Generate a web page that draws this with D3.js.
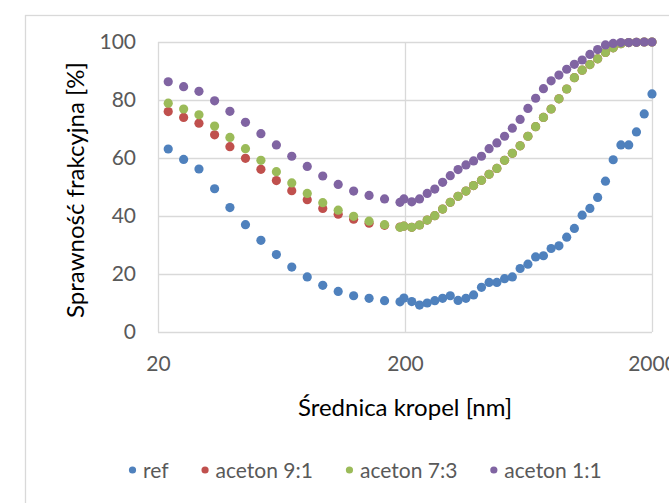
<!DOCTYPE html>
<html>
<head>
<meta charset="utf-8">
<script src="https://cdn.jsdelivr.net/npm/d3@7"></script>
<style>
  body { margin: 0; background: #fff; }
  svg { display: block; font-family: Lato, "Liberation Sans", sans-serif; }
</style>
</head>
<body>
<svg id="chart" width="669" height="503"></svg>
<script>
// droplet diameters [nm]: 16 channels below 200 nm, then the fine grid up to 2000 nm
const diameters = [22.0, 25.4, 29.3, 33.9, 39.1, 45.2, 52.2, 60.3, 69.6, 80.4, 92.9, 107.3, 123.9, 143.1, 165.3, 190.9,
  198, 213, 229, 246, 264, 284, 305, 328, 353, 379, 408, 438, 471, 506, 544, 585, 629,
  676, 727, 781, 840, 903, 970, 1043, 1121, 1205, 1296, 1393, 1497, 1610, 1730, 1860, 2000];

const ref = [63.1, 59.5, 56.2, 49.4, 42.9, 37.0, 31.6, 26.7, 22.4, 19.0, 16.1, 14.0, 12.5, 11.6, 10.8, 10.4,
  11.7, 10.5, 9.3, 10.0, 10.8, 11.6, 12.5, 10.9, 11.6, 12.8, 15.4, 17.1, 17.1, 18.4, 19.0, 21.9, 23.4,
  25.9, 26.3, 28.8, 29.7, 32.7, 35.7, 40.3, 42.6, 46.4, 52.0, 59.4, 64.5, 64.5, 69.0, 75.2, 82.1];
const aceton91 = [76.0, 74.0, 72.0, 68.0, 63.9, 59.9, 56.1, 52.2, 48.7, 45.6, 42.6, 40.6, 38.9, 37.5, 36.8, 36.2,
  36.5, 36.1, 36.9, 38.6, 40.1, 42.4, 44.7, 46.8, 48.6, 50.5, 52.3, 54.4, 56.4, 59.2, 61.6, 64.2, 67.5,
  70.8, 74.0, 76.9, 80.4, 83.8, 87.7, 90.3, 92.2, 94.2, 96.4, 98.0, 99.4, 99.8, 99.9, 100, 100];
const aceton73 = [78.9, 76.9, 74.9, 71.0, 67.1, 63.2, 59.2, 55.3, 51.4, 47.8, 44.6, 42.0, 39.9, 38.2, 37.0, 36.1,
  36.5, 36.1, 36.9, 38.6, 40.1, 42.4, 44.7, 46.8, 48.6, 50.5, 52.3, 54.4, 56.4, 59.2, 61.6, 64.2, 67.5,
  70.8, 74.0, 76.9, 80.4, 83.8, 87.7, 90.3, 92.2, 94.2, 96.4, 98.0, 99.4, 99.8, 99.9, 100, 100];
const aceton11 = [86.3, 84.6, 83.0, 79.7, 76.1, 72.3, 68.4, 64.5, 60.6, 57.1, 53.8, 50.9, 48.6, 47.1, 45.9, 44.7,
  45.9, 44.9, 45.9, 47.8, 49.3, 51.6, 53.9, 56.0, 57.6, 59.0, 60.6, 63.2, 65.2, 67.5, 70.3, 73.3, 77.1,
  80.6, 83.9, 86.6, 88.6, 90.6, 92.3, 93.8, 95.7, 97.4, 99.0, 99.5, 99.8, 99.8, 99.9, 100, 100];

const seriesNames = ["ref", "aceton 9:1", "aceton 7:3", "aceton 1:1"];
const seriesColors = ["#4f81bd", "#c0504d", "#9bbb59", "#8064a2"];
const xTicks = [20, 200, 2000];
const yTicks = [0, 20, 40, 60, 80, 100];

let svg = d3.select('#chart');
let GRID = '#d9d9d9';

// outer chart frame
svg.append('rect')
  .attr('x', 25.5).attr('y', 15.5)
  .attr('width', 700).attr('height', 520)
  .attr('fill', '#fff').attr('stroke', GRID).attr('stroke-width', 1.3);

let xScale = d3.scaleLog().domain([20, 2000]).range([158, 652]);
let yScale = d3.scaleLinear().domain([0, 100]).range([332, 42]);

// horizontal gridlines + y labels
let yAxis = svg.append('g')
  .attr('transform', `translate(${xScale(20)},0)`)
  .call(d3.axisLeft(yScale).tickValues(yTicks).tickSize(-(xScale(2000) - xScale(20))).tickPadding(22));
yAxis.select('.domain').remove();
yAxis.selectAll('line').attr('stroke', GRID).attr('stroke-width', 1.3);
yAxis.selectAll('text').attr('fill', '#595959').style('font-size', '21px').style('font-family', 'Lato');

// vertical gridlines + x labels
let xAxis = svg.append('g')
  .attr('transform', `translate(0,${yScale(0)})`)
  .call(d3.axisBottom(xScale).tickValues(xTicks).tickFormat(d3.format('d'))
    .tickSize(-(yScale(0) - yScale(100))).tickPadding(24));
xAxis.select('.domain').remove();
xAxis.selectAll('line').attr('stroke', GRID).attr('stroke-width', 1.3);
xAxis.selectAll('text').attr('fill', '#595959').style('font-size', '21px').style('font-family', 'Lato');

// points
let allSeries = [ref, aceton91, aceton73, aceton11];
allSeries.forEach((vals, i) => {
  svg.append('g')
    .selectAll('circle')
    .data(vals.map((v, j) => ({x: diameters[j], y: v})))
    .join('circle')
    .attr('cx', d => xScale(d.x))
    .attr('cy', d => yScale(d.y))
    .attr('r', 4.6)
    .attr('fill', seriesColors[i]);
});

// axis titles
svg.append('text')
  .attr('x', 405).attr('y', 416)
  .attr('text-anchor', 'middle')
  .style('font-size', '24px')
  .attr('fill', '#000')
  .text('Średnica kropel [nm]');

svg.append('text')
  .attr('transform', 'translate(84,190) rotate(-90)')
  .attr('text-anchor', 'middle')
  .style('font-size', '24px')
  .attr('fill', '#000')
  .text('Sprawność frakcyjna [%]');

// legend
let lx = 129;
seriesNames.forEach((name, i) => {
  let g = svg.append('g').attr('transform', `translate(${lx},470)`);
  g.append('circle').attr('cx', 3.5).attr('cy', 0).attr('r', 3.6).attr('fill', seriesColors[i]);
  let t = g.append('text').attr('x', 14).attr('y', 7.5)
    .attr('fill', '#595959').style('font-size', '21px').text(name);
  lx += 14 + t.node().getComputedTextLength() + 33;
});
</script>
</body>
</html>
